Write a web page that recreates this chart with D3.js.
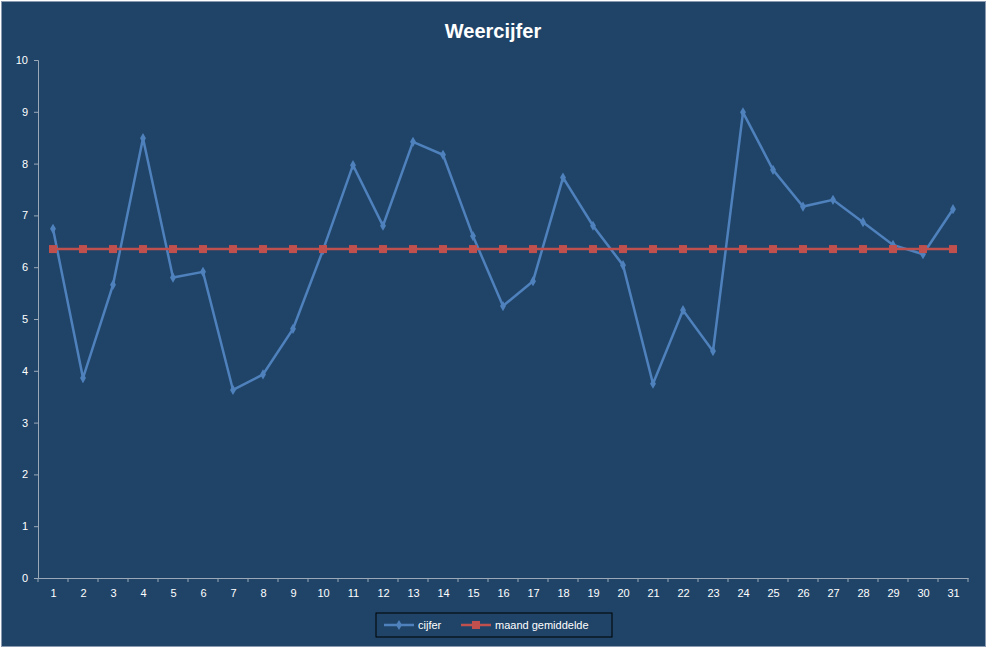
<!DOCTYPE html>
<html><head><meta charset="utf-8">
<script src="https://cdn.jsdelivr.net/npm/d3@7"></script>
<style>body{margin:0;background:#fff}</style>
</head><body>
<svg id="chart" width="987" height="648"></svg>
<script>
// data
const days = d3.range(1, 32);
const cijfer = [6.74,3.86,5.66,8.49,5.80,5.91,3.63,3.93,4.81,6.33,7.97,6.80,8.42,8.17,6.60,5.25,5.73,7.73,6.80,6.04,3.75,5.17,4.38,8.99,7.88,7.17,7.30,6.87,6.43,6.25,7.12];
const gemiddelde = days.map(() => 6.35);
const yTicks = d3.range(0, 11);

const svg = d3.select("#chart");
svg.append("rect").attr("x", 1.5).attr("y", 1.5).attr("width", 984).attr("height", 645)
    .attr("fill", "#1f4468").attr("stroke", "#8a9bb0");

const margin = { top: 60, right: 19, bottom: 70, left: 38 };
const width = 987 - margin.left - margin.right;
const height = 648 - margin.top - margin.bottom;

const g = svg.append("g").attr("transform", `translate(${margin.left},${margin.top})`);

const x = d3.scalePoint().domain(days).range([0, width]).padding(0.5);
const y = d3.scaleLinear().domain([0, 10]).range([height, 0]);

// axes
const yAxis = g.append("g").call(d3.axisLeft(y).tickValues(yTicks).tickSize(4).tickPadding(6));
const xAxis = g.append("g").attr("transform", `translate(0,${height})`)
    .call(d3.axisBottom(x).tickSize(0).tickPadding(11));
[xAxis, yAxis].forEach(a => {
    a.select(".domain").attr("stroke", "#9aa8b8");
    a.selectAll("line").attr("stroke", "#9aa8b8");
    a.selectAll("text").attr("fill", "#fff").style("font-family", "Liberation Sans, Arial").style("font-size", "11px");
});
// small tick marks between categories
const step = x.step();
xAxis.selectAll(".sep").data(d3.range(0, 32)).enter().append("line")
    .attr("x1", d => d * step).attr("x2", d => d * step).attr("y1", 0).attr("y2", 4)
    .attr("stroke", "#9aa8b8");

const line = d3.line().x((d, i) => x(days[i])).y(d => y(d));

g.append("path").datum(cijfer).attr("d", line).attr("fill", "none")
    .attr("stroke", "#4f81bd").attr("stroke-width", 2.5);
g.selectAll(".dia").data(cijfer).enter().append("path")
    .attr("d", d3.symbol(d3.symbolDiamond, 30))
    .attr("transform", (d, i) => `translate(${x(days[i])},${y(d)})`)
    .attr("fill", "#4f81bd");

g.append("path").datum(gemiddelde).attr("d", line).attr("fill", "none")
    .attr("stroke", "#c0504d").attr("stroke-width", 2.5);
g.selectAll(".sq").data(gemiddelde).enter().append("rect")
    .attr("x", (d, i) => x(days[i]) - 4).attr("y", d => y(d) - 4)
    .attr("width", 8).attr("height", 8).attr("fill", "#c0504d");

// title
svg.append("text").attr("x", 493).attr("y", 38).attr("text-anchor", "middle")
    .attr("fill", "#fff").style("font-family", "Liberation Sans, Arial")
    .style("font-size", "20px").style("font-weight", "bold").text("Weercijfer");

// legend
const lg = svg.append("g").attr("transform", "translate(376,613)");
lg.append("rect").attr("width", 236).attr("height", 24).attr("fill", "none").attr("stroke", "#000");
lg.append("line").attr("x1", 8).attr("x2", 38).attr("y1", 12).attr("y2", 12).attr("stroke", "#4f81bd").attr("stroke-width", 2.5);
lg.append("path").attr("d", d3.symbol(d3.symbolDiamond, 30)).attr("transform", "translate(23,12)").attr("fill", "#4f81bd");
lg.append("text").attr("x", 42).attr("y", 16).text("cijfer");
lg.append("line").attr("x1", 85).attr("x2", 115).attr("y1", 12).attr("y2", 12).attr("stroke", "#c0504d").attr("stroke-width", 2.5);
lg.append("rect").attr("x", 96).attr("y", 8).attr("width", 8).attr("height", 8).attr("fill", "#c0504d");
lg.append("text").attr("x", 119).attr("y", 16).text("maand gemiddelde");
lg.selectAll("text").attr("fill", "#fff").style("font-family", "Liberation Sans, Arial").style("font-size", "11px");
</script>
</body></html>
